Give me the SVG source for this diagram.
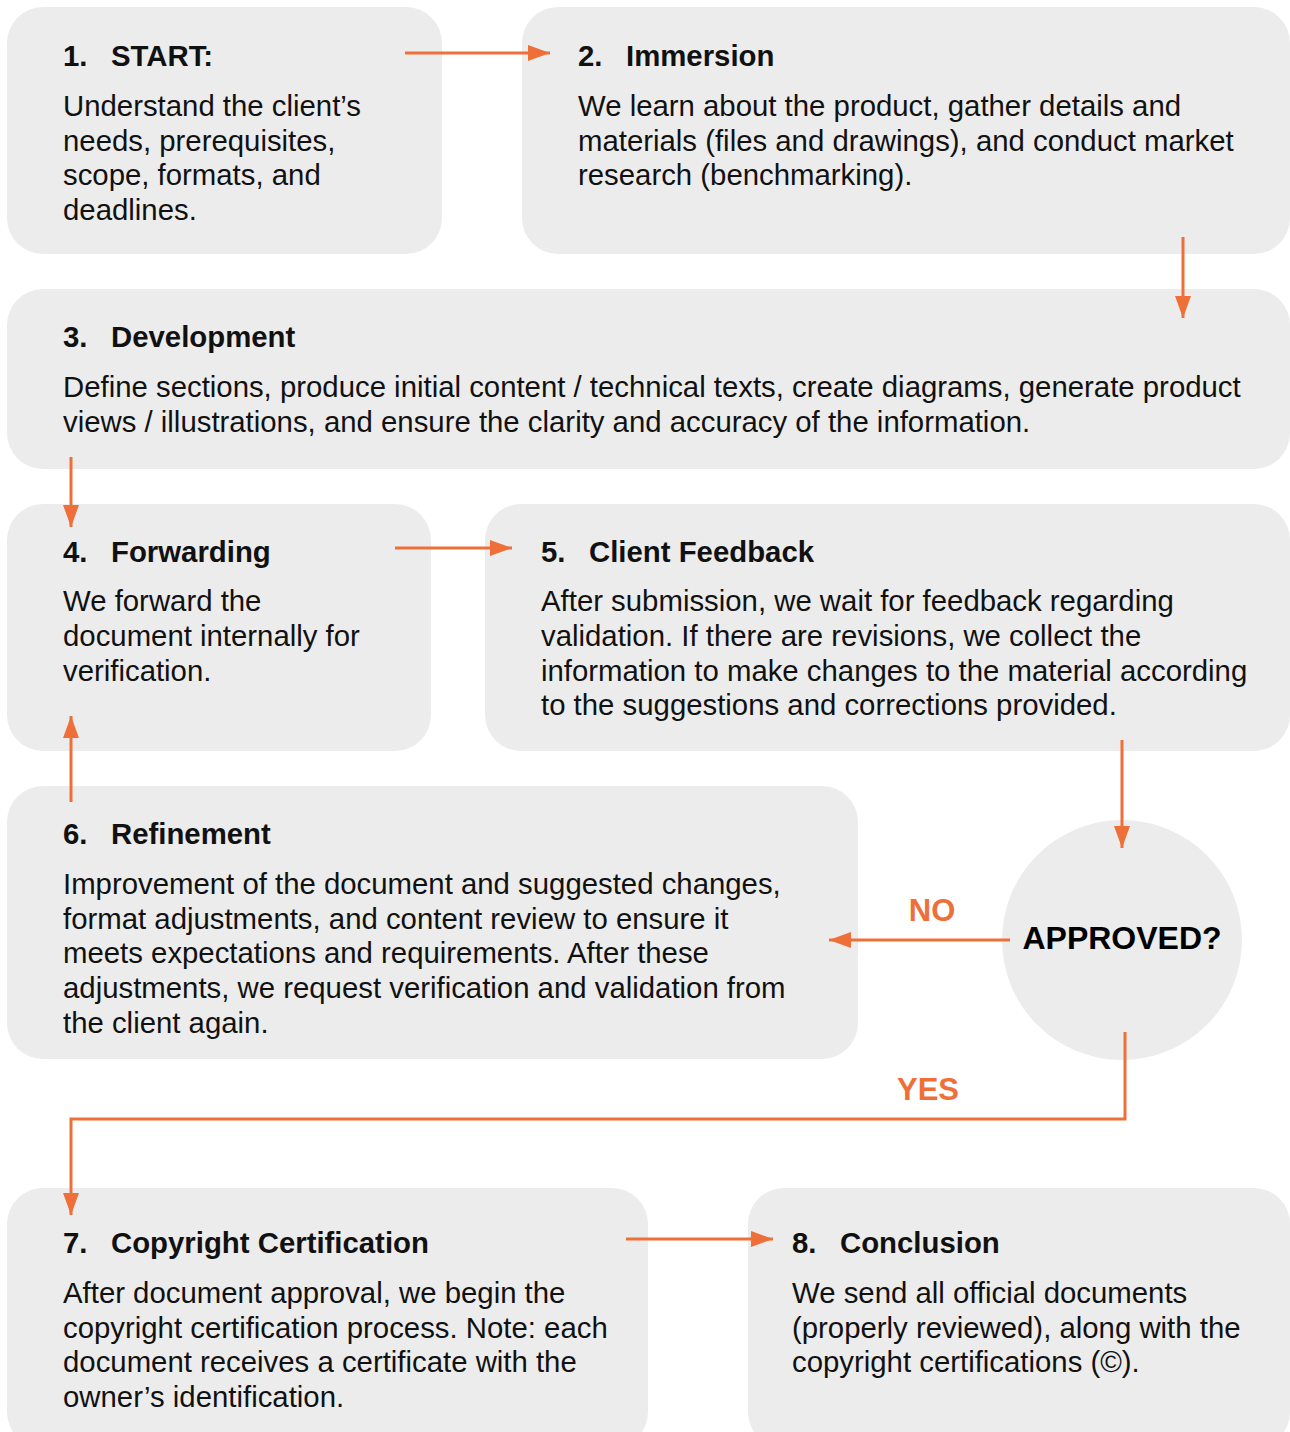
<svg xmlns="http://www.w3.org/2000/svg" width="1290" height="1432" viewBox="0 0 1290 1432">
<defs>
<style>
.box{fill:#ececec}
.t{font-family:"Liberation Sans",Arial,sans-serif;font-size:29.35px;fill:#111}
.b{font-weight:bold}
.c{fill:none;stroke:#ee7038;stroke-width:3}
.lbl{font-family:"Liberation Sans",Arial,sans-serif;font-weight:bold;font-size:31px;fill:#ee7038}
</style>
<marker id="ah" viewBox="0 0 22 16" refX="22" refY="8" markerWidth="22" markerHeight="16" markerUnits="userSpaceOnUse" orient="auto">
<path d="M0,0 L22,8 L0,16 Z" fill="#ee7038"/>
</marker>
</defs>
<rect width="1290" height="1432" fill="#fff"/>

<g id="node1">
<rect class="box" x="7" y="7" width="435" height="247" rx="36"/>
<text class="t b" x="63" y="66">1.</text><text class="t b" x="111" y="66">START:</text>
<text class="t" x="63" y="116">Understand the client’s</text>
<text class="t" x="63" y="151">needs, prerequisites,</text>
<text class="t" x="63" y="185">scope, formats, and</text>
<text class="t" x="63" y="220">deadlines.</text>
</g>
<g id="node2">
<rect class="box" x="522" y="7" width="768" height="247" rx="36"/>
<text class="t b" x="578" y="66">2.</text><text class="t b" x="626" y="66">Immersion</text>
<text class="t" x="578" y="116">We learn about the product, gather details and</text>
<text class="t" x="578" y="151">materials (files and drawings), and conduct market</text>
<text class="t" x="578" y="185">research (benchmarking).</text>
</g>
<g id="node3">
<rect class="box" x="7" y="289" width="1283" height="180" rx="36"/>
<text class="t b" x="63" y="347">3.</text><text class="t b" x="111" y="347">Development</text>
<text class="t" x="63" y="397">Define sections, produce initial content / technical texts, create diagrams, generate product</text>
<text class="t" x="63" y="432">views / illustrations, and ensure the clarity and accuracy of the information.</text>
</g>
<g id="node4">
<rect class="box" x="7" y="504" width="424" height="247" rx="36"/>
<text class="t b" x="63" y="562">4.</text><text class="t b" x="111" y="562">Forwarding</text>
<text class="t" x="63" y="611">We forward the</text>
<text class="t" x="63" y="646">document internally for</text>
<text class="t" x="63" y="681">verification.</text>
</g>
<g id="node5">
<rect class="box" x="485" y="504" width="805" height="247" rx="36"/>
<text class="t b" x="541" y="562">5.</text><text class="t b" x="589" y="562">Client Feedback</text>
<text class="t" x="541" y="611">After submission, we wait for feedback regarding</text>
<text class="t" x="541" y="646">validation. If there are revisions, we collect the</text>
<text class="t" x="541" y="681">information to make changes to the material according</text>
<text class="t" x="541" y="715">to the suggestions and corrections provided.</text>
</g>
<g id="node6">
<rect class="box" x="7" y="786" width="851" height="273" rx="36"/>
<text class="t b" x="63" y="844">6.</text><text class="t b" x="111" y="844">Refinement</text>
<text class="t" x="63" y="894">Improvement of the document and suggested changes,</text>
<text class="t" x="63" y="929">format adjustments, and content review to ensure it</text>
<text class="t" x="63" y="963">meets expectations and requirements. After these</text>
<text class="t" x="63" y="998">adjustments, we request verification and validation from</text>
<text class="t" x="63" y="1033">the client again.</text>
</g>
<g id="decision">
<circle class="box" cx="1122" cy="940" r="120"/>
<text class="t b" x="1122" y="949" text-anchor="middle" style="font-size:32px;fill:#000">APPROVED?</text>
</g>
<g id="node7">
<rect class="box" x="7" y="1188" width="641" height="260" rx="36"/>
<text class="t b" x="63" y="1253">7.</text><text class="t b" x="111" y="1253">Copyright Certification</text>
<text class="t" x="63" y="1303">After document approval, we begin the</text>
<text class="t" x="63" y="1338">copyright certification process. Note: each</text>
<text class="t" x="63" y="1372">document receives a certificate with the</text>
<text class="t" x="63" y="1407">owner’s identification.</text>
</g>
<g id="node8">
<rect class="box" x="748" y="1188" width="542" height="260" rx="36"/>
<text class="t b" x="792" y="1253">8.</text><text class="t b" x="840" y="1253">Conclusion</text>
<text class="t" x="792" y="1303">We send all official documents</text>
<text class="t" x="792" y="1338">(properly reviewed), along with the</text>
<text class="t" x="792" y="1372">copyright certifications (©).</text>
</g>

<g id="connectors">
<path class="c" d="M405,53 H550" marker-end="url(#ah)"/>
<path class="c" d="M1183,237 V318" marker-end="url(#ah)"/>
<path class="c" d="M71,457 V527" marker-end="url(#ah)"/>
<path class="c" d="M395,548 H512" marker-end="url(#ah)"/>
<path class="c" d="M71,802 V716" marker-end="url(#ah)"/>
<path class="c" d="M1122,740 V848" marker-end="url(#ah)"/>
<path class="c" d="M1010,940 H829" marker-end="url(#ah)"/>
<path class="c" d="M1125,1032 V1119 H71 V1215" marker-end="url(#ah)"/>
<path class="c" d="M626,1239 H773" marker-end="url(#ah)"/>
<text class="lbl" x="932" y="921" text-anchor="middle">NO</text>
<text class="lbl" x="928" y="1100" text-anchor="middle">YES</text>
</g>
</svg>
